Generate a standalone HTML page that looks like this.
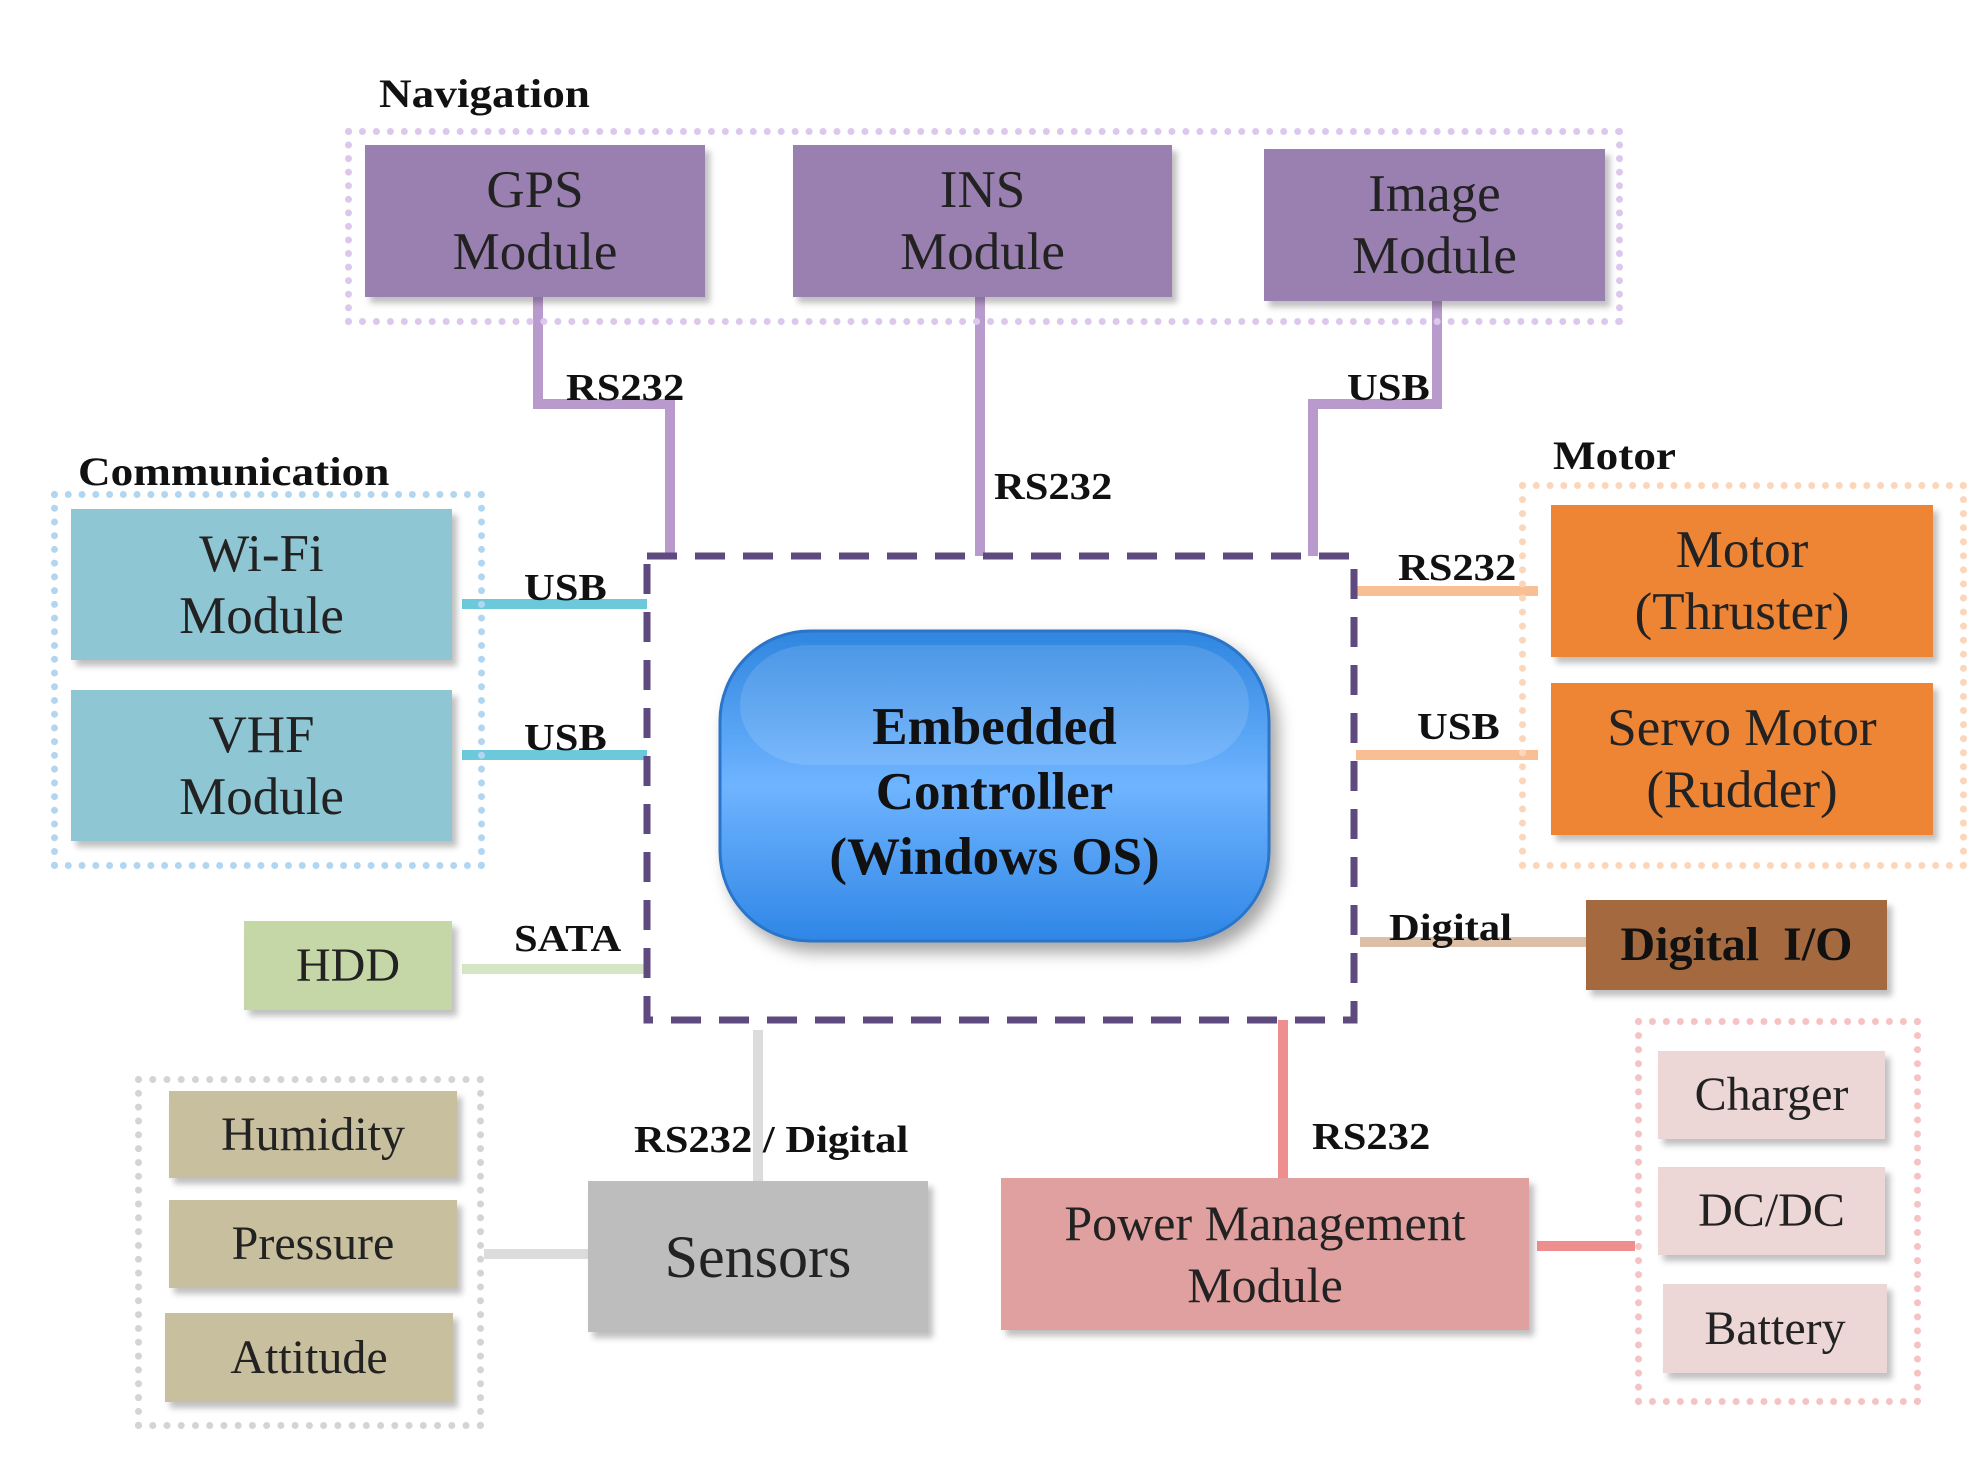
<!DOCTYPE html>
<html><head><meta charset="utf-8"><style>
body{margin:0;width:1980px;height:1468px;background:#fff;position:relative;overflow:hidden;font-family:"Liberation Serif",serif;}
.b{position:absolute;display:flex;align-items:center;justify-content:center;text-align:center;color:#222;font-size:53px;line-height:62px;box-shadow:5px 6px 6px rgba(0,0,0,0.25);}
.d{position:absolute;box-sizing:border-box;border:7px dotted;}
.l{position:absolute;font-weight:bold;font-size:38px;color:#111;white-space:nowrap;transform:scaleX(1.12);transform-origin:left top;}
.h{position:absolute;font-weight:bold;font-size:40px;color:#111;white-space:nowrap;transform:scaleX(1.13);transform-origin:left top;}
.p{background:#9a80b1}
.c{background:#8fc6d4}
.o{background:#ee8535}
.t{background:#c8bf9e;font-size:48px}
.k{background:#ecd6d6;font-size:48px}
</style></head><body>
<svg width="1980" height="1468" style="position:absolute;left:0;top:0">
<g fill="none" stroke-width="10">
<polyline points="538,297 538,404 670,404 670,556" stroke="#b89bcc"/>
<line x1="980" y1="297" x2="980" y2="556" stroke="#b89bcc"/>
<polyline points="1437,301 1437,404 1313,404 1313,556" stroke="#b89bcc"/>
<line x1="462" y1="604" x2="647" y2="604" stroke="#6cc9dc"/>
<line x1="462" y1="755" x2="647" y2="755" stroke="#6cc9dc"/>
<line x1="462" y1="969" x2="647" y2="969" stroke="#d6e6c4"/>
<line x1="1356" y1="591" x2="1538" y2="591" stroke="#f8bf94"/>
<line x1="1356" y1="755" x2="1538" y2="755" stroke="#f8bf94"/>
<line x1="1360" y1="942" x2="1586" y2="942" stroke="#dcbfa7"/>
<line x1="758" y1="1030" x2="758" y2="1185" stroke="#dcdcdc"/>
<line x1="484" y1="1254" x2="588" y2="1254" stroke="#dcdcdc"/>
<line x1="1283" y1="1020" x2="1283" y2="1181" stroke="#ef8e8e"/>
<line x1="1537" y1="1246" x2="1635" y2="1246" stroke="#ef8e8e"/>
</g>
<rect x="647" y="556" width="707" height="464" fill="none" stroke="#5e4a7e" stroke-width="7" stroke-dasharray="30,18"/>
<defs><linearGradient id="g" x1="0" y1="0" x2="0" y2="1"><stop offset="0" stop-color="#2f86e0"/><stop offset="0.5" stop-color="#6fb4ff"/><stop offset="1" stop-color="#2f86e6"/></linearGradient>
<filter id="s"><feDropShadow dx="8" dy="10" stdDeviation="8" flood-opacity="0.35"/></filter></defs>
<rect x="720" y="631" width="549" height="310" rx="90" fill="url(#g)" stroke="#2a74c8" stroke-width="3" filter="url(#s)"/>
<rect x="740" y="645" width="509" height="120" rx="70" fill="#fff" opacity="0.12"/>
</svg>
<div class="d" style="left:345px;top:128px;width:1278px;height:197px;border-color:#dcc8ec"></div>
<div class="d" style="left:51px;top:491px;width:434px;height:378px;border-color:#b3d6f0"></div>
<div class="d" style="left:1519px;top:482px;width:448px;height:387px;border-color:#fbd6bb"></div>
<div class="d" style="left:135px;top:1076px;width:349px;height:353px;border-color:#d4d4d4"></div>
<div class="d" style="left:1635px;top:1018px;width:286px;height:387px;border-color:#f5c3c3"></div>
<div class="h" style="left:379px;top:70px">Navigation</div>
<div class="h" style="left:78px;top:448px">Communication</div>
<div class="h" style="left:1553px;top:432px">Motor</div>
<div class="b p" style="left:365px;top:145px;width:340px;height:152px">GPS<br>Module</div>
<div class="b p" style="left:793px;top:145px;width:379px;height:152px">INS<br>Module</div>
<div class="b p" style="left:1264px;top:149px;width:341px;height:152px">Image<br>Module</div>
<div class="b c" style="left:71px;top:509px;width:381px;height:151px">Wi-Fi<br>Module</div>
<div class="b c" style="left:71px;top:690px;width:381px;height:151px">VHF<br>Module</div>
<div class="b" style="left:244px;top:921px;width:208px;height:89px;background:#c5d7a6;font-size:48px">HDD</div>
<div class="b o" style="left:1551px;top:505px;width:382px;height:152px">Motor<br>(Thruster)</div>
<div class="b o" style="left:1551px;top:683px;width:382px;height:152px">Servo Motor<br>(Rudder)</div>
<div class="b" style="left:1586px;top:900px;width:301px;height:90px;background:#a4693e;font-weight:bold;font-size:48px;color:#111">Digital&nbsp; I/O</div>
<div class="b" style="left:588px;top:1181px;width:340px;height:151px;background:#bdbdbd;font-size:60px">Sensors</div>
<div class="b" style="left:1001px;top:1178px;width:528px;height:152px;background:#e0a09f;font-size:50px">Power Management<br>Module</div>
<div class="b t" style="left:169px;top:1091px;width:288px;height:87px">Humidity</div>
<div class="b t" style="left:169px;top:1200px;width:288px;height:88px">Pressure</div>
<div class="b t" style="left:165px;top:1313px;width:288px;height:89px">Attitude</div>
<div class="b k" style="left:1658px;top:1051px;width:227px;height:88px">Charger</div>
<div class="b k" style="left:1658px;top:1167px;width:227px;height:88px">DC/DC</div>
<div class="b k" style="left:1663px;top:1284px;width:224px;height:89px">Battery</div>
<div style="position:absolute;left:720px;top:695px;width:549px;text-align:center;font-weight:bold;font-size:53px;line-height:65px;color:#111">Embedded<br>Controller<br>(Windows OS)</div>
<div class="l" style="left:566px;top:366px">RS232</div>
<div class="l" style="left:994px;top:465px">RS232</div>
<div class="l" style="left:1347px;top:366px">USB</div>
<div class="l" style="left:524px;top:566px">USB</div>
<div class="l" style="left:524px;top:716px">USB</div>
<div class="l" style="left:514px;top:917px">SATA</div>
<div class="l" style="left:1398px;top:546px">RS232</div>
<div class="l" style="left:1417px;top:705px">USB</div>
<div class="l" style="left:1389px;top:906px">Digital</div>
<div class="l" style="left:634px;top:1118px">RS232 / Digital</div>
<div class="l" style="left:1312px;top:1115px">RS232</div>
</body></html>
